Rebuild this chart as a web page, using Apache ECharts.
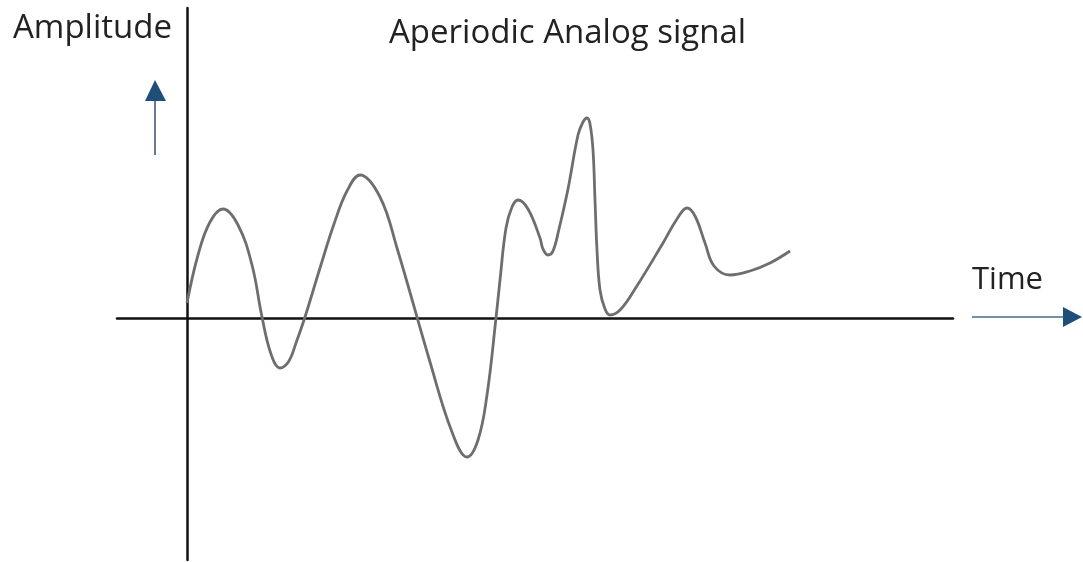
<!DOCTYPE html>
<html>
<head>
<meta charset="utf-8">
<script src="https://cdn.jsdelivr.net/npm/echarts@6/dist/echarts.min.js"></script>
<style>html,body{margin:0;padding:0;background:#fff}#c{width:1083px;height:562px}</style>
</head>
<body>
<div id="c"></div>
<script>
// Signal samples (time units, amplitude units)
const time = [0,1.1,2.3,3.6,5.1,6.5,7.5,8.4,9.3,10.2,10.9,11.8,13.3,14.7,16.0,17.3,19.3,21.0,24.3,26.5,28.0,29.1,30.0,30.9,
  31.3,31.9,32.5,33.1,34.1,35.3,35.6,36.1,36.6,37.2,38.1,39.1,39.6,40.0,40.3,40.6,40.8,41.0,41.3,41.8,42.3,43.3,44.8,47.6,49.0,50.0,50.8,51.8,52.7,54.3,56.3,58.3,60.3];
const amplitude = [1.5,6.3,9.6,10.9,9.3,5.3,0.1,-3.6,-5.0,-4.3,-2.5,0.1,5.0,9.4,12.7,14.3,12.1,7.0,-4.4,-11.4,-13.9,-12.2,-7.7,0,
  3.8,9.0,11.1,11.8,10.9,8.0,6.9,6.3,6.7,8.9,12.9,18.3,19.6,20.0,19.4,16.8,11.8,6.8,2.8,0.9,0.3,0.8,2.9,7.5,9.9,11.0,10.2,7.5,5.2,4.3,4.7,5.5,6.7];
const titleText = 'Aperiodic Analog signal';
const yName = 'Amplitude';
const xName = 'Time';

const data = time.map((t, i) => [t, amplitude[i]]);
const arrowColor = '#1f4e79';
const font = '"Open Sans", "Segoe UI", sans-serif';

const chart = echarts.init(document.getElementById('c'));
chart.setOption({
  animation: false,
  backgroundColor: '#fff',
  title: {
    text: titleText, left: 384, top: 12,
    textStyle: { fontFamily: font, fontSize: 33, fontWeight: 'normal', color: '#222' }
  },
  grid: { left: 117, right: 130, top: 8, bottom: 2 },
  xAxis: {
    type: 'value', min: -7, max: 76.6,
    axisLine: { show: true, onZero: true, lineStyle: { color: '#111', width: 2.5 } },
    axisTick: { show: false }, axisLabel: { show: false }, splitLine: { show: false }
  },
  yAxis: {
    type: 'value', min: -24.2, max: 31,
    axisLine: { show: true, onZero: true, lineStyle: { color: '#111', width: 2.5 } },
    axisTick: { show: false }, axisLabel: { show: false }, splitLine: { show: false }
  },
  series: [{
    type: 'line', data: data, smooth: 0.4, showSymbol: false,
    lineStyle: { color: '#6e6e6e', width: 2.8 }
  }],
  graphic: [
    { type: 'text', left: 13, top: 12, style: { text: yName, font: '33px ' + font, fill: '#222' } },
    { type: 'text', left: 972, top: 265, style: { text: xName, font: '31px ' + font, fill: '#222' } },
    { type: 'line', shape: { x1: 155, y1: 155, x2: 155, y2: 98 }, style: { stroke: '#3d5a75', lineWidth: 1.6 } },
    { type: 'polygon', shape: { points: [[155, 80], [145, 101], [166, 101]] }, style: { fill: arrowColor } },
    { type: 'line', shape: { x1: 972, y1: 317, x2: 1065, y2: 317 }, style: { stroke: '#4a6a88', lineWidth: 1.6 } },
    { type: 'polygon', shape: { points: [[1082, 317], [1063, 307], [1063, 327]] }, style: { fill: arrowColor } }
  ]
});
</script>
</body>
</html>
